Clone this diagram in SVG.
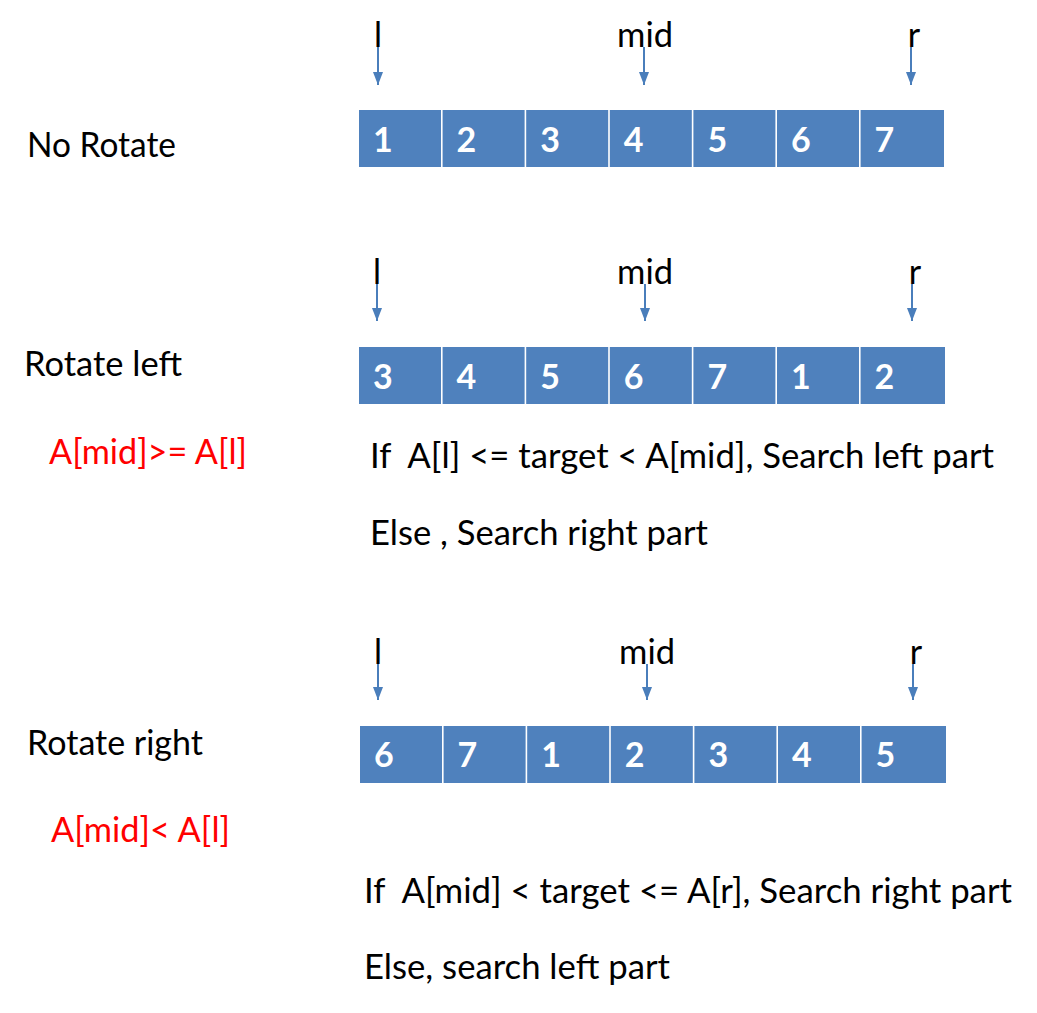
<svg xmlns="http://www.w3.org/2000/svg" width="1037" height="1013" viewBox="0 0 1037 1013">
<style>
text{font-family:Lato,"Open Sans","Liberation Sans",sans-serif;font-size:34px;fill:#000;white-space:pre}
.red{fill:#FF0000}
.cell{fill:#4F81BD}
.num{fill:#fff;font-weight:bold}
.ptr{text-anchor:middle}
.arr{stroke:#4A7EBB;stroke-width:2;fill:none;marker-end:url(#ah)}
</style>
<defs>
<marker id="ah" viewBox="0 0 13 10" refX="13" refY="5" markerWidth="13" markerHeight="10" markerUnits="userSpaceOnUse" orient="auto">
<path d="M0,0 L13,5 L0,10 z" fill="#4A7EBB"/>
</marker>
</defs>
<rect width="1037" height="1013" fill="#fff"/>

<g id="label-no-rotate"><text x="27" y="157" textLength="149" lengthAdjust="spacingAndGlyphs">No Rotate</text></g>
<g id="label-rotate-left"><text x="24" y="376" textLength="158" lengthAdjust="spacingAndGlyphs">Rotate left</text></g>
<g id="cond-left"><text class="red" x="49" y="464" textLength="198" lengthAdjust="spacingAndGlyphs">A[mid]&gt;= A[l]</text></g>
<g id="label-rotate-right"><text x="27" y="755" textLength="176" lengthAdjust="spacingAndGlyphs">Rotate right</text></g>
<g id="cond-right"><text class="red" x="51" y="842" textLength="179" lengthAdjust="spacingAndGlyphs">A[mid]&lt; A[l]</text></g>

<g id="rule-left">
<text x="370" y="468" textLength="624" lengthAdjust="spacingAndGlyphs">If  A[l] &lt;= target &lt; A[mid], Search left part</text>
<text x="370" y="545" textLength="338" lengthAdjust="spacingAndGlyphs">Else , Search right part</text>
</g>
<g id="rule-right">
<text x="364" y="903" textLength="648" lengthAdjust="spacingAndGlyphs">If  A[mid] &lt; target &lt;= A[r], Search right part</text>
<text x="364" y="979" textLength="306" lengthAdjust="spacingAndGlyphs">Else, search left part</text>
</g>

<g id="array-1">
<rect class="cell" x="359" y="110" width="82" height="57"/>
<rect class="cell" x="442.6" y="110" width="82" height="57"/>
<rect class="cell" x="526.2" y="110" width="82" height="57"/>
<rect class="cell" x="609.8" y="110" width="82" height="57"/>
<rect class="cell" x="693.4" y="110" width="82" height="57"/>
<rect class="cell" x="777" y="110" width="82" height="57"/>
<rect class="cell" x="860.6" y="110" width="83.4" height="57"/>
<text class="num" x="373" y="152">1</text>
<text class="num" x="456.6" y="152">2</text>
<text class="num" x="540.2" y="152">3</text>
<text class="num" x="623.8" y="152">4</text>
<text class="num" x="707.4" y="152">5</text>
<text class="num" x="791" y="152">6</text>
<text class="num" x="874.6" y="152">7</text>
</g>
<g id="array-2">
<rect class="cell" x="359" y="347" width="82" height="57"/>
<rect class="cell" x="442.6" y="347" width="82" height="57"/>
<rect class="cell" x="526.2" y="347" width="82" height="57"/>
<rect class="cell" x="609.8" y="347" width="82" height="57"/>
<rect class="cell" x="693.4" y="347" width="82" height="57"/>
<rect class="cell" x="777" y="347" width="82" height="57"/>
<rect class="cell" x="860.6" y="347" width="84.4" height="57"/>
<text class="num" x="373" y="389">3</text>
<text class="num" x="456.6" y="389">4</text>
<text class="num" x="540.2" y="389">5</text>
<text class="num" x="623.8" y="389">6</text>
<text class="num" x="707.4" y="389">7</text>
<text class="num" x="791" y="389">1</text>
<text class="num" x="874.6" y="389">2</text>
</g>
<g id="array-3">
<rect class="cell" x="360" y="726" width="82" height="57"/>
<rect class="cell" x="443.6" y="726" width="82" height="57"/>
<rect class="cell" x="527.2" y="726" width="82" height="57"/>
<rect class="cell" x="610.8" y="726" width="82" height="57"/>
<rect class="cell" x="694.4" y="726" width="82" height="57"/>
<rect class="cell" x="778" y="726" width="82" height="57"/>
<rect class="cell" x="861.6" y="726" width="84.4" height="57"/>
<text class="num" x="374" y="767">6</text>
<text class="num" x="457.6" y="767">7</text>
<text class="num" x="541.2" y="767">1</text>
<text class="num" x="624.8" y="767">2</text>
<text class="num" x="708.4" y="767">3</text>
<text class="num" x="792" y="767">4</text>
<text class="num" x="875.6" y="767">5</text>
</g>

<g id="pointers-1">
<text class="ptr" x="378" y="47">l</text>
<text class="ptr" x="645" y="47" textLength="56" lengthAdjust="spacingAndGlyphs">mid</text>
<text class="ptr" x="914" y="47">r</text>
</g>
<g id="pointers-2">
<text class="ptr" x="377" y="284">l</text>
<text class="ptr" x="645" y="284" textLength="56" lengthAdjust="spacingAndGlyphs">mid</text>
<text class="ptr" x="915" y="284">r</text>
</g>
<g id="pointers-3">
<text class="ptr" x="378" y="664">l</text>
<text class="ptr" x="647" y="664" textLength="56" lengthAdjust="spacingAndGlyphs">mid</text>
<text class="ptr" x="916" y="664">r</text>
</g>

<g id="connectors">
<line class="arr" x1="378" y1="47" x2="378" y2="85"/>
<line class="arr" x1="644" y1="47" x2="644" y2="85"/>
<line class="arr" x1="911" y1="47" x2="911" y2="85"/>
<line class="arr" x1="377" y1="284" x2="377" y2="321"/>
<line class="arr" x1="645" y1="284" x2="645" y2="321"/>
<line class="arr" x1="912" y1="284" x2="912" y2="321"/>
<line class="arr" x1="378" y1="664" x2="378" y2="700"/>
<line class="arr" x1="647" y1="664" x2="647" y2="700"/>
<line class="arr" x1="913" y1="664" x2="913" y2="700"/>
</g>
</svg>
